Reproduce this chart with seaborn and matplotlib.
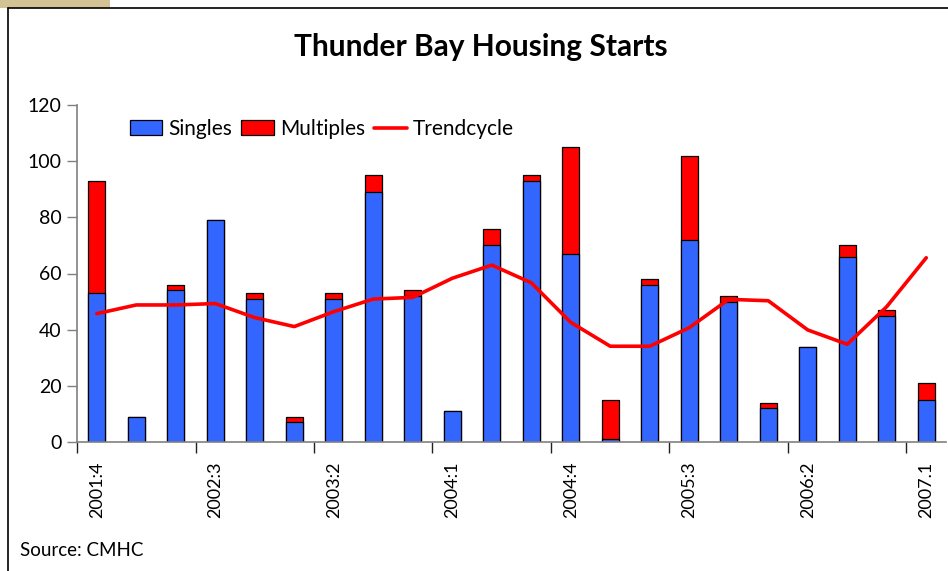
import matplotlib
matplotlib.use("Agg")
import matplotlib.pyplot as plt
import seaborn as sns
import pandas as pd
import numpy as np
from matplotlib.patches import Patch, Rectangle
from matplotlib.lines import Line2D

quarters = ["2001:4", "2002:1", "2002:2", "2002:3", "2002:4", "2003:1", "2003:2",
            "2003:3", "2003:4", "2004:1", "2004:2", "2004:3", "2004:4", "2005:1",
            "2005:2", "2005:3", "2005:4", "2006:1", "2006:2", "2006:3", "2006:4", "2007.1"]
singles = [53, 9, 54, 79, 51, 7, 51, 89, 52, 11, 70, 93, 67, 1, 56, 72, 50, 12, 34, 66, 45, 15]
multiples = [40, 0, 2, 0, 2, 2, 2, 6, 2, 0, 6, 2, 38, 14, 2, 30, 2, 2, 0, 4, 2, 6]
trendcycle = [45.7, 48.8, 48.8, 49.3, 44.3, 41.1, 46.4, 50.9, 51.5, 58.3, 63.0, 56.7,
              42.6, 34.1, 34.1, 40.7, 50.8, 50.3, 39.9, 34.8, 48.2, 65.6]
label_every = 3

df = pd.DataFrame({"quarter": quarters, "singles": singles, "multiples": multiples,
                   "trend": trendcycle})
df["total"] = df["singles"] + df["multiples"]
df["pos"] = np.arange(len(df))

sns.set_style("white")
plt.rcParams["font.family"] = ["Lato", "DejaVu Sans"]
plt.rcParams["text.color"] = "black"
plt.rcParams["xtick.color"] = "black"
plt.rcParams["ytick.color"] = "black"

fig = plt.figure(figsize=(9.48, 5.71), dpi=100)
W, H = 948, 571
ax = fig.add_axes([77 / W, 1 - 442 / H, (946 - 77) / W, (442 - 105) / H])

blue = "#3366FF"
red = "#FF0000"
sns.barplot(data=df, x="quarter", y="total", color=red, saturation=1, width=0.43,
            edgecolor="black", linewidth=0.9, ax=ax)
sns.barplot(data=df, x="quarter", y="singles", color=blue, saturation=1, width=0.43,
            edgecolor="black", linewidth=0.9, ax=ax)
sns.lineplot(data=df, x="pos", y="trend", color=red, linewidth=2.6, ax=ax)

ax.set_xlim(-0.5, len(df) - 0.5)
ax.set_ylim(0, 120)
ax.set_yticks(np.arange(0, 121, 20))
ax.tick_params(axis="y", which="major", length=7, width=1, color="#808080",
               direction="out", labelsize=14, pad=4, left=True, labelcolor="black")

idx = np.arange(0, len(df), label_every)
ax.set_xticks(idx - 0.5)
ax.set_xticklabels([""] * len(idx))
ax.set_xticks(idx, minor=True)
ax.set_xticklabels([quarters[i] for i in idx], minor=True, rotation=90,
                   fontsize=13, va="top", ha="center")
ax.tick_params(axis="x", which="major", length=8, width=1, color="#202020",
               direction="out", bottom=True)
ax.tick_params(axis="x", which="minor", length=0, pad=14, labelcolor="black")

ax.set_xlabel("")
ax.set_ylabel("")
for s in ["top", "right"]:
    ax.spines[s].set_visible(False)
for s in ["left", "bottom"]:
    ax.spines[s].set_color("#808080")
    ax.spines[s].set_linewidth(1.2)
ax.grid(False)

handles = [Patch(facecolor=blue, edgecolor="black", linewidth=0.9),
           Patch(facecolor=red, edgecolor="black", linewidth=0.9),
           Line2D([0], [0], color=red, linewidth=2.6)]
ax.legend(handles, ["Singles", "Multiples", "Trendcycle"], ncol=3, frameon=False,
          loc="upper left", bbox_to_anchor=((115 - 77) / (946 - 77), 1.002),
          fontsize=15, handlelength=1.55, handleheight=0.7, handletextpad=0.3,
          columnspacing=0.45, borderaxespad=0.3, labelcolor="black")

fig.text(481 / W, 1 - 47 / H, "Thunder Bay Housing Starts", ha="center", va="center",
         fontsize=21.5, fontweight="bold", color="black")
fig.text(20 / W, 1 - 551 / H, "Source: CMHC", ha="left", va="center", fontsize=13.5,
         color="black")

# outer frame
fig.add_artist(Rectangle((0, 1 - 8 / H), 110 / W, 8 / H, transform=fig.transFigure,
                         facecolor="#D2C294", edgecolor="none"))
fig.add_artist(Line2D([8 / W, 8 / W], [0, 1 - 8 / H], transform=fig.transFigure,
                      color="black", linewidth=1.2))
fig.add_artist(Line2D([8 / W, 1], [1 - 8 / H, 1 - 8 / H], transform=fig.transFigure,
                      color="black", linewidth=1.2))

fig.savefig("out.png", dpi=100)
